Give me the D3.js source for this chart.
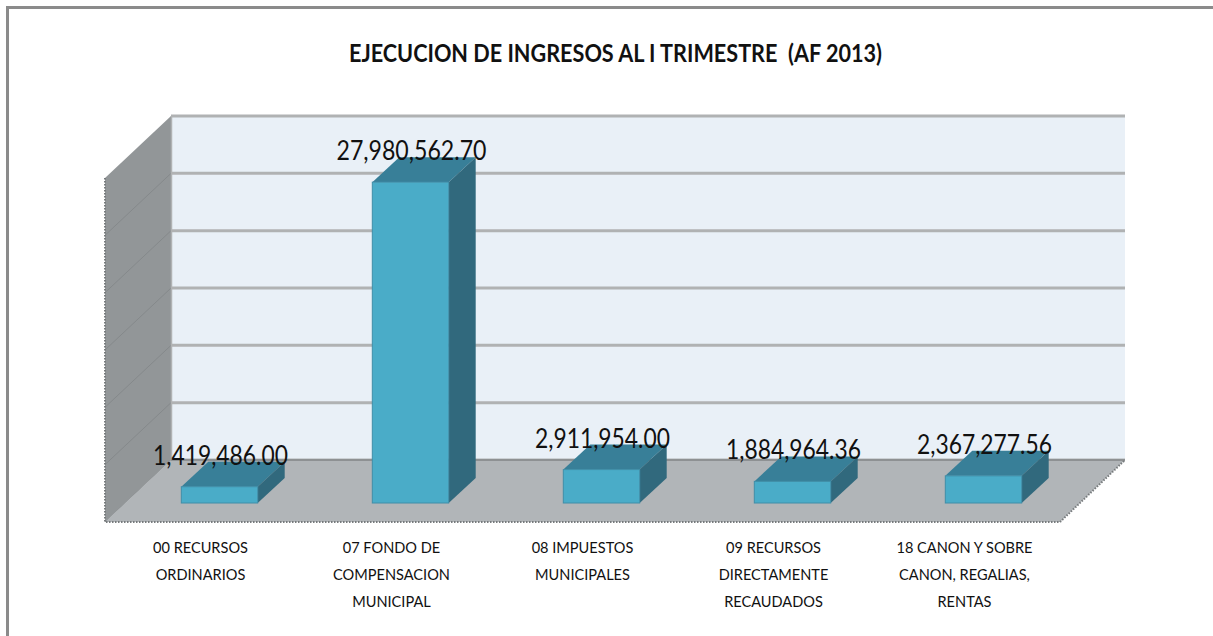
<!DOCTYPE html>
<html>
<head>
<meta charset="utf-8">
<script src="https://cdn.jsdelivr.net/npm/d3@7"></script>
<style>
  html, body { margin: 0; padding: 0; background: #fff; }
  svg { display: block; }
  text { font-family: "Lato", "Liberation Sans", sans-serif; fill: #111; }
</style>
</head>
<body>
<svg id="chart" width="1213" height="636"></svg>
<script>
// Données
const categories = ["00", "07", "08", "09", "18"];
const values = [1419486.00, 27980562.70, 2911954.00, 1884964.36, 2367277.56];
const valueLabels = ["1,419,486.00", "27,980,562.70", "2,911,954.00", "1,884,964.36", "2,367,277.56"];
const categoryLines = [
    ["00 RECURSOS", "ORDINARIOS"],
    ["07 FONDO DE", "COMPENSACION", "MUNICIPAL"],
    ["08 IMPUESTOS", "MUNICIPALES"],
    ["09 RECURSOS", "DIRECTAMENTE", "RECAUDADOS"],
    ["18 CANON Y SOBRE", "CANON, REGALIAS,", "RENTAS"]
];
const gridTicks = [0, 5000000, 10000000, 15000000, 20000000, 25000000, 30000000];
const title = "EJECUCION DE INGRESOS AL I TRIMESTRE  (AF 2013)";

const svg = d3.select("#chart");

// Cadre
svg.append("path")
    .attr("d", "M7.5,636V7.5H1213")
    .attr("fill", "none")
    .attr("stroke", "#8b8b8b")
    .attr("stroke-width", 3);

// Titre
svg.append("text")
    .attr("x", 349)
    .attr("y", 62)
    .attr("xml:space", "preserve")
    .attr("font-size", 24)
    .attr("font-weight", 700)
    .attr("textLength", 533)
    .attr("lengthAdjust", "spacingAndGlyphs")
    .text(title);

// Géométrie de la boîte 3D
const front = {left: 105, right: 1060, bottom: 522};
const depth = {x: 66, y: 62};
const barDepth = {x: 27, y: 25};
const barOffset = {x: 19, y: 19};

const y = d3.scaleLinear()
    .domain([0, 30000000])
    .range([front.bottom - depth.y, front.bottom - depth.y - 344]);

const x = d3.scaleBand()
    .domain(categories)
    .range([front.left, front.right])
    .paddingInner(0.6)
    .paddingOuter(0.3);

const poly = pts => pts.map(p => p.join(",")).join(" ");
const backLeft = front.left + depth.x, backRight = front.right + depth.x - 1;

// Mur du fond
svg.append("rect")
    .attr("x", backLeft)
    .attr("y", y(30000000))
    .attr("width", backRight - backLeft)
    .attr("height", y(0) - y(30000000))
    .attr("fill", "#e9f0f7");

// Mur gauche
svg.append("polygon")
    .attr("points", poly([
        [backLeft, y(30000000)], [backLeft, y(0)],
        [front.left, front.bottom], [front.left, y(30000000) + depth.y]
    ]))
    .attr("fill", "#929698");

// Grille
const grid = svg.append("g");
grid.selectAll("line.back")
    .data(gridTicks)
    .enter()
    .append("line")
    .attr("x1", backLeft)
    .attr("x2", backRight)
    .attr("y1", d => y(d))
    .attr("y2", d => y(d))
    .attr("stroke", "#b0b2b3")
    .attr("stroke-width", 3);
grid.selectAll("line.side")
    .data(gridTicks.slice(0, -1))
    .enter()
    .append("line")
    .attr("x1", backLeft)
    .attr("x2", front.left)
    .attr("y1", d => y(d))
    .attr("y2", d => y(d) + depth.y)
    .attr("stroke", "#85898b")
    .attr("stroke-width", 1);
svg.append("line")
    .attr("x1", backLeft + 0.5)
    .attr("x2", backLeft + 0.5)
    .attr("y1", y(30000000))
    .attr("y2", y(0))
    .attr("stroke", "#b0b2b3")
    .attr("stroke-width", 1.5);

// Sol
svg.append("polygon")
    .attr("points", poly([
        [front.left, front.bottom], [front.right, front.bottom],
        [backRight, y(0)], [backLeft, y(0)]
    ]))
    .attr("fill", "#b1b5b8");
svg.append("line")
    .attr("x1", backLeft)
    .attr("x2", backRight)
    .attr("y1", y(0))
    .attr("y2", y(0))
    .attr("stroke", "#8e9193")
    .attr("stroke-width", 2);

// Bords en pointillés
svg.append("path")
    .attr("d", `M${front.left},${y(30000000) + depth.y}V${front.bottom}H${front.right}L${backRight},${y(0)}`)
    .attr("fill", "none")
    .attr("stroke", "#777b7d")
    .attr("stroke-width", 2)
    .attr("stroke-dasharray", "1.5 1.5");

// Barres
const baseY = front.bottom - barOffset.y;
const barTop = d => baseY - (y(0) - y(d));
const bars = svg.selectAll("g.bar")
    .data(categories.map((c, i) => ({c, v: values[i], label: valueLabels[i]})))
    .enter()
    .append("g")
    .attr("class", "bar");

const barX = d => x(d.c) + barOffset.x;

// dessus
bars.append("polygon")
    .attr("points", d => {
        const l = barX(d), r = l + x.bandwidth(), t = barTop(d.v);
        return poly([[l, t], [r, t], [r + barDepth.x, t - barDepth.y], [l + barDepth.x, t - barDepth.y]]);
    })
    .attr("fill", "#387f98");
// côté
bars.append("polygon")
    .attr("points", d => {
        const r = barX(d) + x.bandwidth(), t = barTop(d.v);
        return poly([[r, t], [r + barDepth.x, t - barDepth.y], [r + barDepth.x, baseY - barDepth.y], [r, baseY]]);
    })
    .attr("fill", "#31697d");
// face
bars.append("rect")
    .attr("x", barX)
    .attr("y", d => barTop(d.v))
    .attr("width", x.bandwidth())
    .attr("height", d => baseY - barTop(d.v))
    .attr("fill", "#4aacc8")
    .attr("stroke", "#3f8ea8")
    .attr("stroke-width", 1);

// Étiquettes de valeur
bars.append("text")
    .attr("x", d => barX(d) + x.bandwidth() / 2 + 1)
    .attr("y", d => barTop(d.v) - barDepth.y + 3)
    .attr("text-anchor", "middle")
    .attr("font-size", 27)
    .attr("textLength", d => d.v > 2e7 ? 150 : 135)
    .attr("lengthAdjust", "spacingAndGlyphs")
    .text(d => d.label);

// Étiquettes de catégorie (Lato est plus large que la police d'origine)
const catGroups = svg.selectAll("g.cat")
    .data(categoryLines)
    .enter()
    .append("g")
    .attr("class", "cat");
catGroups.selectAll("text")
    .data((d, i) => d.map((t, j) => ({t, j, c: categories[i]})))
    .enter()
    .append("text")
    .attr("x", d => x(d.c) + x.bandwidth() / 2)
    .attr("y", d => 553 + d.j * 27)
    .attr("text-anchor", "middle")
    .attr("font-size", 16)
    .attr("lengthAdjust", "spacingAndGlyphs")
    .text(d => d.t)
    .attr("textLength", function () { return this.getComputedTextLength() * 0.91; });
</script>
</body>
</html>
